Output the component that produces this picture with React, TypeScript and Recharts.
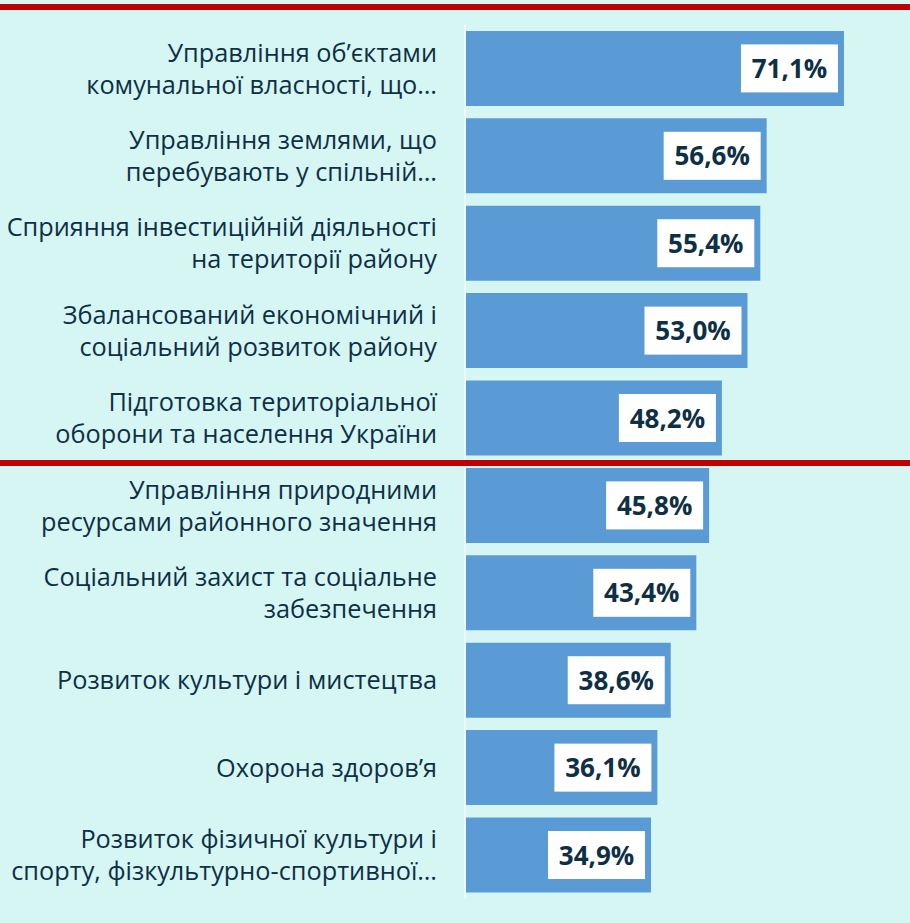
import React from "react";
import { BarChart, Bar, XAxis, YAxis, LabelList } from "recharts";

// categories (split into lines as in the source)
const categories = [
  ["Управління об’єктами", "комунальної власності, що…"],
  ["Управління землями, що", "перебувають у спільній…"],
  ["Сприяння інвестиційній діяльності", "на території району"],
  ["Збалансований економічний і", "соціальний розвиток району"],
  ["Підготовка територіальної", "оборони та населення України"],
  ["Управління природними", "ресурсами районного значення"],
  ["Соціальний захист та соціальне", "забезпечення"],
  ["Розвиток культури і мистецтва"],
  ["Охорона здоров’я"],
  ["Розвиток фізичної культури і", "спорту, фізкультурно-спортивної…"],
];
const shares = [71.1, 56.6, 55.4, 53.0, 48.2, 45.8, 43.4, 38.6, 36.1, 34.9];

const data = categories.map((lines, i) => ({
  name: lines.join(" "),
  lines,
  value: shares[i],
}));

const BG = "#d6f6f4";
const BAR = "#5b9bd5";
const TEXT = "#0e2f44";
const RED = "#c00000";

const fmt = (v: number) => v.toFixed(1).replace(".", ",") + "%";

const CategoryTick = (props: any) => {
  const { y, payload } = props;
  const item = data.find((d) => d.name === payload.value);
  const lines = item ? item.lines : [payload.value];
  const first = y + 9 - (lines.length - 1) * 16;
  return (
    <text
      x={437}
      y={first}
      textAnchor="end"
      fill={TEXT}
      fontSize={25.3}
      fontFamily="'Open Sans', sans-serif"
    >
      {lines.map((l: string, i: number) => (
        <tspan key={i} x={437} y={first + i * 32}>
          {l}
        </tspan>
      ))}
    </text>
  );
};

const ValueLabel = (props: any) => {
  const { x, y, width, height, value } = props;
  const boxW = 97;
  const boxH = 48;
  const right = x + width - 6;
  const cy = y + height / 2;
  return (
    <g>
      <rect x={right - boxW} y={cy - boxH / 2} width={boxW} height={boxH} fill="#ffffff" />
      <text
        x={right - boxW / 2}
        y={cy + 9.5}
        textAnchor="middle"
        fill={TEXT}
        fontSize={26}
        fontWeight="bold"
        fontFamily="'Open Sans', sans-serif"
      >
        {fmt(value)}
      </text>
    </g>
  );
};

export default function App() {
  return (
    <div
      style={{
        position: "absolute",
        left: 0,
        top: 0,
        width: 910,
        height: 923,
        background: BG,
        overflow: "hidden",
      }}
    >
      <BarChart
        width={910}
        height={923}
        data={data}
        layout="vertical"
        margin={{ top: 24.8, right: 18.6, bottom: 24.2, left: 0 }}
        barCategoryGap="7%"
      >
        <XAxis type="number" domain={[0, 80]} hide />
        <YAxis
          type="category"
          dataKey="name"
          width={465}
          axisLine={{ stroke: "#eaf9f9", strokeWidth: 2 }}
          tickLine={false}
          tick={<CategoryTick />}
          interval={0}
        />
        <Bar dataKey="value" fill={BAR} isAnimationActive={false}>
          <LabelList dataKey="value" content={<ValueLabel />} />
        </Bar>
      </BarChart>
      <div style={{ position: "absolute", left: 0, top: 4, width: 910, height: 6, background: RED }} />
      <div style={{ position: "absolute", left: 0, top: 459.5, width: 910, height: 6, background: RED }} />
    </div>
  );
}
